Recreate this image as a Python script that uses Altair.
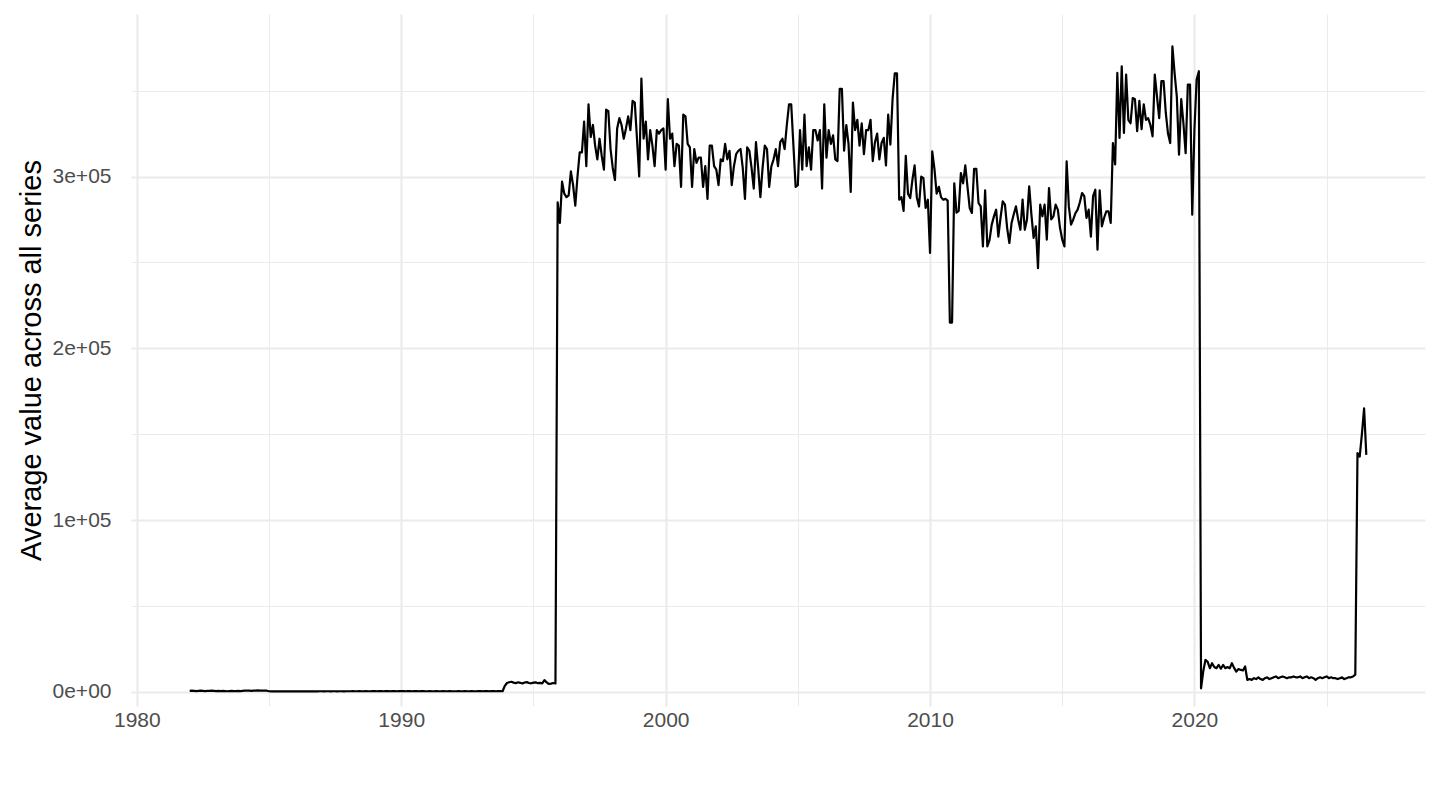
import altair as alt
import pandas as pd

# Monthly values (in thousands), starting January 1982
start_month = "1982-01"

v_1982 = [0.6, 0.7, 0.6, 0.5, 0.6, 0.7, 0.6, 0.5, 0.6, 0.6, 0.7, 0.6]
v_1983 = [0.5, 0.6, 0.5, 0.6, 0.5, 0.4, 0.5, 0.6, 0.5, 0.5, 0.6, 0.5]
v_1984 = [0.6, 0.7, 0.8, 0.7, 0.6, 0.7, 0.8, 0.9, 0.8, 0.7, 0.8, 0.7]
v_1985 = [0.4, 0.3, 0.4, 0.3, 0.4, 0.3, 0.3, 0.4, 0.3, 0.3, 0.4, 0.3]
v_1986 = [0.3, 0.4, 0.3, 0.3, 0.4, 0.3, 0.4, 0.3, 0.3, 0.4, 0.3, 0.4]
v_1987 = [0.4, 0.3, 0.4, 0.4, 0.3, 0.4, 0.4, 0.3, 0.4, 0.4, 0.3, 0.4]
v_1988 = [0.4, 0.4, 0.5, 0.4, 0.4, 0.5, 0.4, 0.4, 0.5, 0.4, 0.4, 0.5]
v_1989 = [0.5, 0.4, 0.5, 0.5, 0.4, 0.5, 0.5, 0.4, 0.5, 0.5, 0.4, 0.5]
v_1990 = [0.5, 0.5, 0.4, 0.5, 0.5, 0.4, 0.5, 0.5, 0.4, 0.5, 0.5, 0.4]
v_1991 = [0.4, 0.5, 0.4, 0.4, 0.5, 0.4, 0.4, 0.5, 0.4, 0.4, 0.5, 0.4]
v_1992 = [0.4, 0.4, 0.5, 0.4, 0.4, 0.5, 0.4, 0.4, 0.5, 0.4, 0.4, 0.5]
v_1993 = [0.5, 0.4, 0.5, 0.5, 0.4, 0.5, 0.5, 0.4, 0.5, 0.5, 0.4, 3.5]
v_1994 = [5.2, 5.6, 5.9, 5.4, 5.1, 5.6, 5.3, 4.9, 5.5, 5.7, 5.2, 5.0]
v_1995 = [5.4, 5.6, 5.1, 5.3, 5.0, 6.9, 5.5, 4.6, 4.8, 5.2, 4.9, 285]
v_1996 = [273, 297, 290, 288, 289, 303, 295, 283, 300, 314, 314, 332]
v_1997 = [306, 342, 323, 330, 318, 310, 322, 312, 304, 339, 338, 316]
v_1998 = [305, 298, 328, 334, 330, 322, 328, 335, 327, 344, 343, 322]
v_1999 = [300, 357, 322, 332, 310, 327, 318, 306, 327, 325, 327, 328]
v_2000 = [304, 345, 322, 325, 306, 319, 318, 294, 336, 335, 319, 317]
v_2001 = [294, 316, 308, 311, 311, 294, 306, 287, 318, 318, 306, 304]
v_2002 = [295, 310, 309, 319, 310, 315, 295, 306, 313, 315, 316, 305]
v_2003 = [287, 317, 315, 305, 293, 320, 305, 288, 305, 318, 316, 294]
v_2004 = [306, 310, 316, 306, 320, 322, 316, 330, 342, 342, 318, 294]
v_2005 = [295, 327, 304, 336, 306, 317, 304, 327, 327, 321, 327, 293]
v_2006 = [342, 311, 327, 319, 324, 310, 309, 351, 351, 315, 330, 319]
v_2007 = [291, 343, 327, 333, 318, 331, 313, 327, 327, 333, 309, 320]
v_2008 = [325, 310, 319.5, 322.5, 306.5, 336, 318.6, 345, 360, 360, 286.5, 288]
v_2009 = [280, 312, 290, 287.5, 298, 306.5, 288, 282.6, 300, 299, 281.7, 286.5]
v_2010 = [255.5, 314.7, 304.5, 290, 294, 288, 286.5, 287, 286, 215, 215, 296]
v_2011 = [279, 280, 302, 296, 306.5, 294, 281.7, 278.8, 304.5, 304.5, 284.6, 282.6]
v_2012 = [259.3, 292, 259.3, 263, 272, 276.8, 280.7, 265, 276, 285.6, 283.6, 270]
v_2013 = [261.3, 272.9, 278, 282.6, 275, 269, 286.6, 269, 275, 294.3, 278, 264.3]
v_2014 = [271, 246.7, 283.6, 276.8, 283.6, 263.3, 293.3, 275, 276.8, 283.6, 280.7, 270]
v_2015 = [263.3, 259.3, 308.9, 282.6, 272, 275, 278.7, 280.7, 285, 290.4, 288.6, 275.9]
v_2016 = [280.7, 265, 288.6, 292.3, 257.4, 292, 271, 276, 279.7, 279.7, 273, 319.5]
v_2017 = [307, 360.3, 322.5, 364.2, 325.4, 359.3, 333, 331, 345.7, 345, 326.4, 344]
v_2018 = [327.5, 342, 333, 334, 330, 323.4, 359.3, 346.7, 334, 355.5, 355.5, 337]
v_2019 = [325, 319.5, 375.8, 360, 346.7, 312.7, 345, 331, 313.6, 353.5, 353.5, 277.8]
v_2020 = [327.5, 356.5, 361.3, 2.1, 12, 18.6, 17.5, 13.8, 16.7, 14.5, 13.8, 15.7]
v_2021 = [13.5, 15.7, 13.8, 14.5, 13.8, 16.7, 14, 11.8, 13.3, 12.8, 12.5, 14.8]
v_2022 = [7, 7.5, 7, 8, 7.5, 8.5, 7.5, 7, 8, 8.5, 7.5, 8]
v_2023 = [8.5, 9, 8, 8.5, 9, 8.5, 8, 8.5, 8.5, 9, 8.5, 8.5]
v_2024 = [9, 8, 8.5, 9, 8, 8.5, 8, 7, 8, 8.5, 8, 8.5]
v_2025 = [9, 8, 8.5, 8, 8, 7.5, 8, 8.5, 7.5, 8, 8.5, 8.5]
v_2026 = [9, 10, 139, 137, 150, 165, 138]

year_lists = [v_1982, v_1983, v_1984, v_1985, v_1986, v_1987, v_1988, v_1989,
              v_1990, v_1991, v_1992, v_1993, v_1994, v_1995, v_1996, v_1997,
              v_1998, v_1999, v_2000, v_2001, v_2002, v_2003, v_2004, v_2005,
              v_2006, v_2007, v_2008, v_2009, v_2010, v_2011, v_2012, v_2013,
              v_2014, v_2015, v_2016, v_2017, v_2018, v_2019, v_2020, v_2021,
              v_2022, v_2023, v_2024, v_2025, v_2026]

values_k = [v for lst in year_lists for v in lst]
dates = pd.date_range(start_month, periods=len(values_k), freq="MS")
df = pd.DataFrame({
    "t": dates.year + (dates.month - 1) / 12.0,
    "value": [v * 1000 for v in values_k],
})

x_ticks = [1980, 1985, 1990, 1995, 2000, 2005, 2010, 2015, 2020, 2025]
y_ticks = [0, 50000, 100000, 150000, 200000, 250000, 300000, 350000]

FONT = "Liberation Sans"
GRID = "#EBEBEB"

chart = alt.Chart(df).mark_line(color="black", strokeWidth=2.2, strokeJoin="round").encode(
    x=alt.X(
        "t:Q",
        scale=alt.Scale(domain=[1979.78, 2028.72], nice=False, zero=False),
        axis=alt.Axis(
            title=None,
            values=x_ticks,
            labelExpr="datum.value % 10 === 0 ? datum.value : ''",
            grid=True,
            gridColor=GRID,
            gridWidth={"condition": {"test": "datum.value % 10 === 0", "value": 2.1}, "value": 1.05},
            domain=False,
            ticks=False,
            labelPadding=3,
            labelFont=FONT,
            labelFontSize=21,
            labelColor="#4D4D4D",
        ),
    ),
    y=alt.Y(
        "value:Q",
        scale=alt.Scale(domain=[-8200, 394600], nice=False, zero=False),
        axis=alt.Axis(
            title="Average value across all series",
            values=y_ticks,
            labelExpr="datum.value === 0 ? '0e+00' : (datum.value % 100000 === 0 ? (datum.value / 100000) + 'e+05' : '')",
            grid=True,
            gridColor=GRID,
            gridWidth={"condition": {"test": "datum.value % 100000 === 0", "value": 2.1}, "value": 1.05},
            domain=False,
            ticks=False,
            labelPadding=20,
            labelFont=FONT,
            labelFontSize=21,
            labelColor="#4D4D4D",
            titleFont=FONT,
            titleFontSize=29,
            titleFontWeight="normal",
            titleColor="black",
            titlePadding=6,
        ),
    ),
).properties(
    width=1294,
    height=692,
    padding={"left": 9, "top": 6, "right": 5, "bottom": 5},
).configure_view(stroke=None)

chart.save("out.html", embed_options={"renderer": "svg", "actions": False})
